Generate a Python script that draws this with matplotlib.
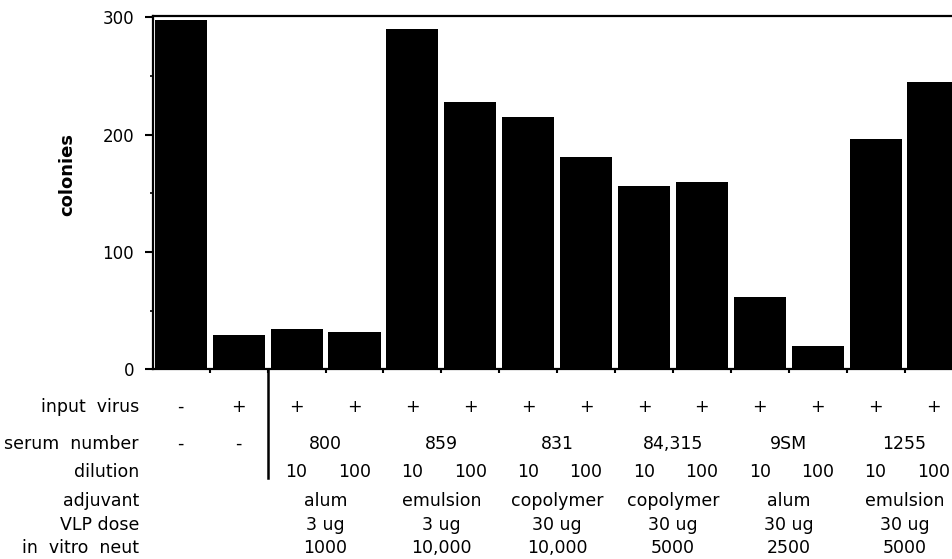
import numpy as np
import matplotlib
matplotlib.use('Agg')
import matplotlib.pyplot as plt
import matplotlib.transforms as mtransforms

# bar heights (colonies), one bar per column
colonies = [298, 29, 34, 32, 290, 228, 215, 181, 156, 160, 62, 20, 196, 245]

# per-bar table rows
input_virus = ['-', '+', '+', '+', '+', '+', '+', '+', '+', '+', '+', '+', '+', '+']
dilution = ['', '', '10', '100', '10', '100', '10', '100', '10', '100', '10', '100', '10', '100']
serum_controls = ['-', '-']

# per-group table rows (groups are pairs of bars starting at bar 2)
serum_number = ['800', '859', '831', '84,315', '9SM', '1255']
adjuvant = ['alum', 'emulsion', 'copolymer', 'copolymer', 'alum', 'emulsion']
vlp_dose = ['3 ug', '3 ug', '30 ug', '30 ug', '30 ug', '30 ug']
neut = ['1000', '10,000', '10,000', '5000', '2500', '5000']

row_labels = ['input  virus', 'serum  number', 'dilution', 'adjuvant',
              'VLP dose', 'in  vitro  neut']
yticks = [0, 100, 200, 300]

W, H = 952, 559
plt.rcParams['font.family'] = ['DejaVu Sans']
fig = plt.figure(figsize=(W / 100, H / 100), dpi=100)
ax = fig.add_axes([153 / W, 1 - 369.3 / H, 1 - 153 / W, (369.3 - 15.7) / H])

x = np.arange(len(colonies))
ax.bar(x, colonies, width=0.9, color='black', edgecolor='none')
ax.set_xlim(-0.48, 13.32)
ax.set_ylim(0, 301.4)

ax.spines['right'].set_visible(False)
for s in ['top', 'left', 'bottom']:
    ax.spines[s].set_linewidth(1.6)

ax.set_yticks(yticks)
ax.set_yticks([50, 150, 250], minor=True)
ax.tick_params(axis='y', which='major', length=5.5, width=1.5, pad=8,
               labelsize=12)
ax.tick_params(axis='y', which='minor', length=2.5, width=1.2)
ax.set_xticks(np.arange(1, len(colonies)) - 0.5)
ax.set_xticklabels([])
ax.tick_params(axis='x', which='major', length=3, width=1.5)

fig.text(67 / W, 1 - 174 / H, 'colonies', rotation=90, ha='center',
         va='center', fontsize=13, fontweight='bold')

# long separator below the control columns
sep = mtransforms.blended_transform_factory(ax.transData, ax.transAxes)
ax.plot([1.5, 1.5], [0, -(478 - 369.3) / (369.3 - 15.7)], color='black',
        lw=1.8, transform=sep, clip_on=False)

# table below the bars
tr = mtransforms.blended_transform_factory(ax.transData, fig.transFigure)
baselines = [412, 449, 477, 506, 530, 553]
fs = 12.5
for lab, b in zip(row_labels, baselines):
    fig.text(139 / W, 1 - b / H, lab, ha='right', va='baseline', fontsize=fs)

for i, s in enumerate(input_virus):
    ax.text(i, 1 - baselines[0] / H, s, transform=tr, ha='center',
            va='baseline', fontsize=fs)
for i, s in enumerate(serum_controls):
    ax.text(i, 1 - baselines[1] / H, s, transform=tr, ha='center',
            va='baseline', fontsize=fs)
for i, s in enumerate(dilution):
    ax.text(i, 1 - baselines[2] / H, s, transform=tr, ha='center',
            va='baseline', fontsize=fs)

for g, rows in enumerate(zip(serum_number, adjuvant, vlp_dose, neut)):
    xc = 2 + 2 * g + 0.5
    for s, b in zip(rows, [baselines[1]] + baselines[3:]):
        ax.text(xc, 1 - b / H, s, transform=tr, ha='center', va='baseline',
                fontsize=fs)

fig.savefig('out.png', dpi=100)
